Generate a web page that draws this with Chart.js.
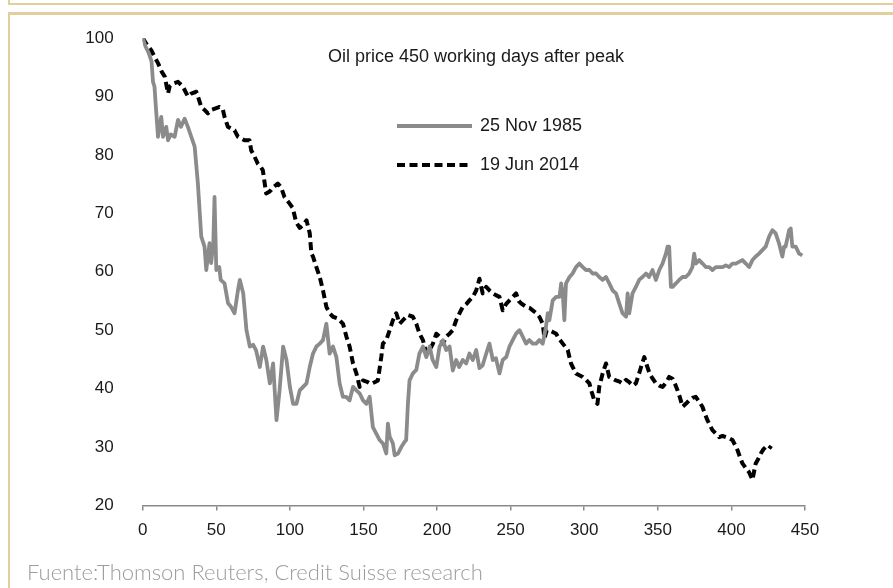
<!DOCTYPE html>
<html>
<head>
<meta charset="utf-8">
<script src="https://cdn.jsdelivr.net/npm/chart.js@4/dist/chart.umd.min.js"></script>
<style>
    html, body { margin: 0; padding: 0; background: #fff; }
    body { width: 893px; height: 588px; position: relative; overflow: hidden; }
    #chartBox { position: absolute; left: 0; top: 0; width: 893px; height: 588px; }
    .frame { position: absolute; background: #e2cf9c; }
    #source {
        position: absolute; left: 27px; top: 558px;
        font-family: Lato, "Open Sans", sans-serif; font-weight: 300;
        font-size: 22px; color: #9c9c9c; white-space: nowrap;
    }
</style>
</head>
<body>
<div class="frame" style="left:8px; top:3px; width:885px; height:2px;"></div>
<div class="frame" style="left:8px; top:0px; width:2px; height:5px;"></div>
<div class="frame" style="left:8px; top:12px; width:885px; height:3px;"></div>
<div class="frame" style="left:8px; top:12px; width:2px; height:576px;"></div>
<div id="chartBox"><canvas id="oilChart" width="893" height="588"></canvas></div>
<div id="source">Fuente:Thomson Reuters, Credit Suisse research</div>

<script>
// working days after the peak / index (peak = 100)
const daysNov1985 = [0, 2, 4, 6, 7, 8, 9, 10.4, 11.5, 12.6, 13.8, 15, 16, 17.2, 19, 21.7, 24, 26, 28.5, 30.7,
    33, 35.3, 37.5, 39.8, 42, 43.2, 45.4, 46.5, 48, 48.8, 50, 52, 53, 55.6, 58, 60, 62.4, 64.7, 66, 68.3,
    70.5, 72.8, 75, 77, 79.6, 81.8, 84, 86.4, 88.6, 90.9, 93, 95.4, 97.7, 100, 102.2, 104.5, 106.7, 109, 111.3, 113.5,
    115.7, 118, 120.3, 122.5, 124.8, 127, 129.3, 131.6, 133.8, 136, 138.3, 140.6, 142.9, 145.2, 147.4, 149.7, 152, 154.2, 156.4, 158.7,
    161, 163.3, 165.5, 166.6, 167.8, 170, 171.2, 173.5, 175.7, 178, 179, 180.2, 181.3, 183.6, 185.9, 188, 190.4, 192.7, 195, 197,
    199.5, 201.7, 204, 206.2, 208.5, 210.7, 213, 215, 217.5, 219.8, 222, 224.3, 226.6, 228.8, 231, 233.4, 235.6, 237.9, 240, 242.4,
    244.6, 247, 249.2, 251.4, 253.7, 256, 258.2, 260.5, 262.7, 265, 267.3, 269.5, 271.8, 274, 275.2, 276.3, 278.6, 280.9, 283.2, 284.3,
    285.4, 286.5, 287.6, 290, 292.1, 294.4, 296.7, 299, 301.2, 303.5, 305.7, 308, 310.2, 312.5, 314.8, 317, 319.3, 321.6, 323.8, 326,
    328.4, 329.5, 330.6, 332.8, 335.1, 337.3, 339.6, 342, 344, 346.4, 348.7, 351, 353.2, 355.5, 356.6, 357.7, 358.9, 360, 362.3, 364.5,
    366.8, 369, 371.3, 373.5, 374.7, 375.8, 378.1, 380.4, 382.6, 384.9, 387.1, 389.4, 391.7, 394, 396.2, 398.5, 400.7, 403, 405.2, 407.5,
    409.8, 412, 414.3, 416.5, 418.8, 421, 423.3, 425.6, 427.8, 430, 432.3, 434.6, 435.8, 436.8, 439.2, 440.3, 441.4, 443.7, 446, 448.2];
const priceNov1985 = [100, 98.5, 97.5, 96, 92.5, 91.7, 88, 83.1, 85, 86.5, 83.1, 84, 84.8, 82.5, 83.5, 83.1, 86, 84.8, 86.2, 84.8,
    83.1, 81.4, 75.1, 66, 64.3, 60.3, 64.9, 61.5, 65, 72.8, 60.3, 60.8, 58.6, 58, 54.6, 54, 52.9, 56.8, 58.6, 56.3,
    50, 47.2, 47.5, 46.6, 43.7, 47.2, 44.9, 40.9, 44.3, 34.6, 39.7, 47.2, 44.9, 40.3, 37.4, 37.4, 39.7, 40.3, 40.9, 43.7,
    46, 47.2, 47.7, 48.3, 51.1, 46, 47.2, 45.4, 40.9, 38.6, 38.6, 38, 40.3, 39.7, 39.2, 38, 37.4, 38.6, 33.4, 32.3,
    31.2, 30.6, 28.9, 34, 31.8, 30.6, 28.6, 28.9, 30, 30.9, 31.2, 37.4, 41.4, 42.6, 43.2, 46, 47.2, 45.4, 47.2, 44.9,
    43.7, 47.2, 48.3, 46.6, 47.2, 43.1, 44.9, 43.7, 44.9, 44.3, 46, 44.9, 46.6, 43.5, 44, 46, 47.7, 44.9, 45.2, 42.6,
    44.9, 45.4, 47.2, 48.3, 49.4, 50, 48.9, 47.7, 48.3, 47.7, 47.7, 48.3, 47.7, 50.6, 52.9, 51.7, 55.1, 55.7, 55.7, 58,
    56.3, 51.7, 58, 59.1, 59.7, 60.8, 61.4, 60.8, 60.3, 60.3, 59.7, 59.7, 59.1, 58.6, 59.1, 58, 56.8, 56.3, 54.6, 52.9,
    52.3, 56.3, 52.9, 56.3, 57.4, 58.6, 59.1, 59.7, 59.1, 60.3, 58.6, 60.3, 61.4, 63.1, 64.3, 64.3, 57.4, 57.4, 58, 58.6,
    59.1, 59.1, 59.7, 60.8, 63.1, 61.4, 62, 61.4, 60.8, 60.8, 60.3, 60.8, 60.8, 60.8, 61.1, 60.8, 61.4, 61.4, 61.7, 62,
    61.4, 60.8, 62, 62.6, 63.1, 63.7, 64.3, 66, 67.1, 66.6, 64.9, 62.6, 64.3, 64.3, 67.1, 67.4, 64.3, 64.3, 63.1, 62.8];

const daysJun2014 = [0, 3, 5.8, 8, 10.4, 13, 15, 17.2, 18.3, 20.6, 24, 27.3, 30.7, 33, 36.4, 37.5, 39.8, 42, 44.3, 46.5,
    50, 52.2, 54.5, 55.6, 57.9, 60, 62.4, 64.7, 67, 69.2, 72.6, 73.7, 76, 78.2, 80, 81.6, 83.9, 86, 87.3, 89,
    91.8, 94, 96.3, 99.7, 102, 104.2, 106.7, 109, 111.3, 113.5, 114.6, 115.7, 118, 120.3, 122.5, 124.8, 127, 129.3, 132.7, 136.1,
    138.4, 140.6, 142.9, 145.2, 147.4, 149.7, 153, 155, 157.6, 159.8, 162.1, 163.2, 165.5, 167.8, 170, 172.3, 174.6, 176.8, 180.2, 183.6,
    185.9, 188.1, 190.4, 192.7, 194.9, 197.2, 199.5, 201.7, 204, 206.2, 208.5, 210.7, 213, 215.3, 217.5, 220, 222, 224.3, 226.6, 228.8,
    231, 233.4, 235.6, 237.9, 240, 242.4, 244.6, 247, 249.2, 251.5, 253.7, 255.5, 257.1, 260.5, 263, 265, 267, 269.5, 271.8, 273,
    274.5, 276.3, 278.6, 280.9, 283, 285.4, 288.8, 291, 294.4, 296.7, 299, 301.2, 303.5, 305, 306.8, 309, 310.2, 312.5, 314.8, 317,
    319.3, 321.6, 324, 326, 328.4, 330.6, 333, 335.1, 337.3, 339, 340.8, 342.5, 344.4, 346.5, 348.7, 351, 353.2, 355.5, 357.7, 360,
    361.7, 363.4, 365, 366.8, 369, 371.3, 373.5, 375.8, 378, 380.3, 382, 383.7, 385.5, 387.1, 389.4, 391.7, 394, 396.2, 398.5, 400.7,
    402.4, 404.1, 405.8, 407.5, 409.8, 412, 414.3, 416.5, 418.3, 420, 421.7, 423.3, 425.6, 427];
const priceJun2014 = [100, 98.8, 97.9, 96.8, 95.7, 94.2, 93.4, 90.5, 91.7, 92.2, 92.5, 91.7, 90, 90.5, 90.8, 90, 88.2, 87.7, 87.1, 87.7,
    88, 88.2, 87.7, 86.5, 84.8, 84.5, 84.2, 83.1, 82.8, 82.5, 82.5, 80.8, 79.7, 78.5, 78, 77.4, 73.4, 73.7, 74, 74.5,
    75.1, 74.5, 72.8, 71.7, 70.9, 68.5, 67.5, 68, 68.8, 66.6, 63.1, 62.6, 60.8, 59.1, 56.8, 54, 52.9, 52.3, 52, 51.1,
    48.9, 47.2, 44.3, 42.6, 40.3, 41.4, 41.1, 40.8, 41.1, 41.4, 45.4, 47.7, 48.3, 50, 51.7, 52.9, 51.1, 51.7, 52.6, 52.3,
    51.1, 49.4, 48.3, 46, 46.6, 47.7, 49.4, 48.9, 47.7, 48.9, 49.4, 50, 51.7, 52.9, 54, 54.5, 55.1, 55.7, 56.8, 58.8,
    56.3, 57.4, 56.8, 56.3, 56, 55.7, 53.4, 54.5, 55.1, 55.7, 56.3, 55, 54.6, 54, 53.8, 53.4, 53, 52.3, 51.1, 48.6,
    50, 50, 49.7, 49.4, 48.5, 47.7, 46.6, 44.3, 42.6, 42.3, 42, 41.5, 40.9, 39.5, 38, 37.4, 40.3, 42.6, 44.3, 42,
    41.7, 41.4, 41.2, 40.9, 41.5, 41.1, 40.5, 40.9, 42.6, 44, 45.4, 44, 42.6, 41.7, 40.9, 40.5, 40.3, 41, 42, 41.7,
    40.8, 39.7, 38.5, 36.9, 37.4, 38, 38.4, 38.6, 37.8, 36.9, 35.7, 34.6, 33.7, 32.9, 32.3, 31.7, 31.9, 31.7, 31.5, 31.2,
    30.4, 29.5, 28.3, 27.2, 26.4, 25.7, 24.4, 27.2, 28, 28.9, 29.6, 30, 29.7, 30.2];

const seriesNames = ["25 Nov 1985", "19 Jun 2014"];
const xTickValues = [0, 50, 100, 150, 200, 250, 300, 350, 400, 450];
const yTickValues = [20, 30, 40, 50, 60, 70, 80, 90, 100];
const chartTitle = "Oil price 450 working days after peak";

const GRAY = "#8b8b8b";
const TEXT = "#1a1a1a";
const DASH = [8, 4.5];
const FONT = "'Liberation Sans', Arial, sans-serif";

function toPoints(xs, ys) {
    return xs.map((x, i) => ({ x: x, y: ys[i] }));
}

// title and legend sit inside the plot, like in the original
const insideLabels = {
    id: "insideLabels",
    afterDraw(chart) {
        const ctx = chart.ctx;
        ctx.save();
        ctx.fillStyle = TEXT;
        ctx.font = "18px " + FONT;
        ctx.textAlign = "center";
        ctx.textBaseline = "middle";
        ctx.fillText(chartTitle, 476, 57);

        const rows = [
            { y: 126, color: GRAY, dash: [], width: 4 },
            { y: 165, color: "#000", dash: DASH, width: 4 }
        ];
        rows.forEach((r, i) => {
            ctx.beginPath();
            ctx.setLineDash(r.dash);
            ctx.strokeStyle = r.color;
            ctx.lineWidth = r.width;
            ctx.moveTo(397, r.y);
            ctx.lineTo(472, r.y);
            ctx.stroke();
            ctx.setLineDash([]);
            ctx.textAlign = "left";
            ctx.fillStyle = TEXT;
            ctx.fillText(seriesNames[i], 480, r.y);
        });
        ctx.restore();
    }
};

new Chart(document.getElementById("oilChart"), {
    type: "line",
    data: {
        datasets: [
            {
                label: seriesNames[0],
                data: toPoints(daysNov1985, priceNov1985),
                borderColor: GRAY,
                borderWidth: 3.8,
                pointRadius: 0,
                tension: 0,
                borderJoinStyle: "round"
            },
            {
                label: seriesNames[1],
                data: toPoints(daysJun2014, priceJun2014),
                borderColor: "#000",
                borderWidth: 4,
                borderDash: DASH,
                pointRadius: 0,
                tension: 0,
                borderJoinStyle: "round"
            }
        ]
    },
    options: {
        responsive: false,
        animation: false,
        layout: { padding: { left: 0, right: 88, top: 38, bottom: 42.5 } },
        plugins: {
            legend: { display: false },
            tooltip: { enabled: false }
        },
        scales: {
            x: {
                type: "linear",
                min: 0,
                max: 450,
                afterBuildTicks: (scale) => { scale.ticks = xTickValues.map(v => ({ value: v })); },
                afterFit: (scale) => { scale.height = 40; },
                grid: { drawOnChartArea: false, drawTicks: true, tickLength: 5, color: "#8a8a8a", lineWidth: 1.5 },
                border: { display: true, color: "#8a8a8a", width: 1.5 },
                ticks: {
                    color: TEXT,
                    padding: 10,
                    maxRotation: 0,
                    font: { family: FONT, size: 17 }
                }
            },
            y: {
                min: 20,
                max: 100,
                afterBuildTicks: (scale) => { scale.ticks = yTickValues.map(v => ({ value: v })); },
                afterFit: (scale) => { scale.width = 142.7; },
                grid: { display: false },
                border: { display: false },
                ticks: {
                    color: TEXT,
                    padding: 21,
                    font: { family: FONT, size: 17 }
                }
            }
        }
    },
    plugins: [insideLabels]
});
</script>
</body>
</html>
